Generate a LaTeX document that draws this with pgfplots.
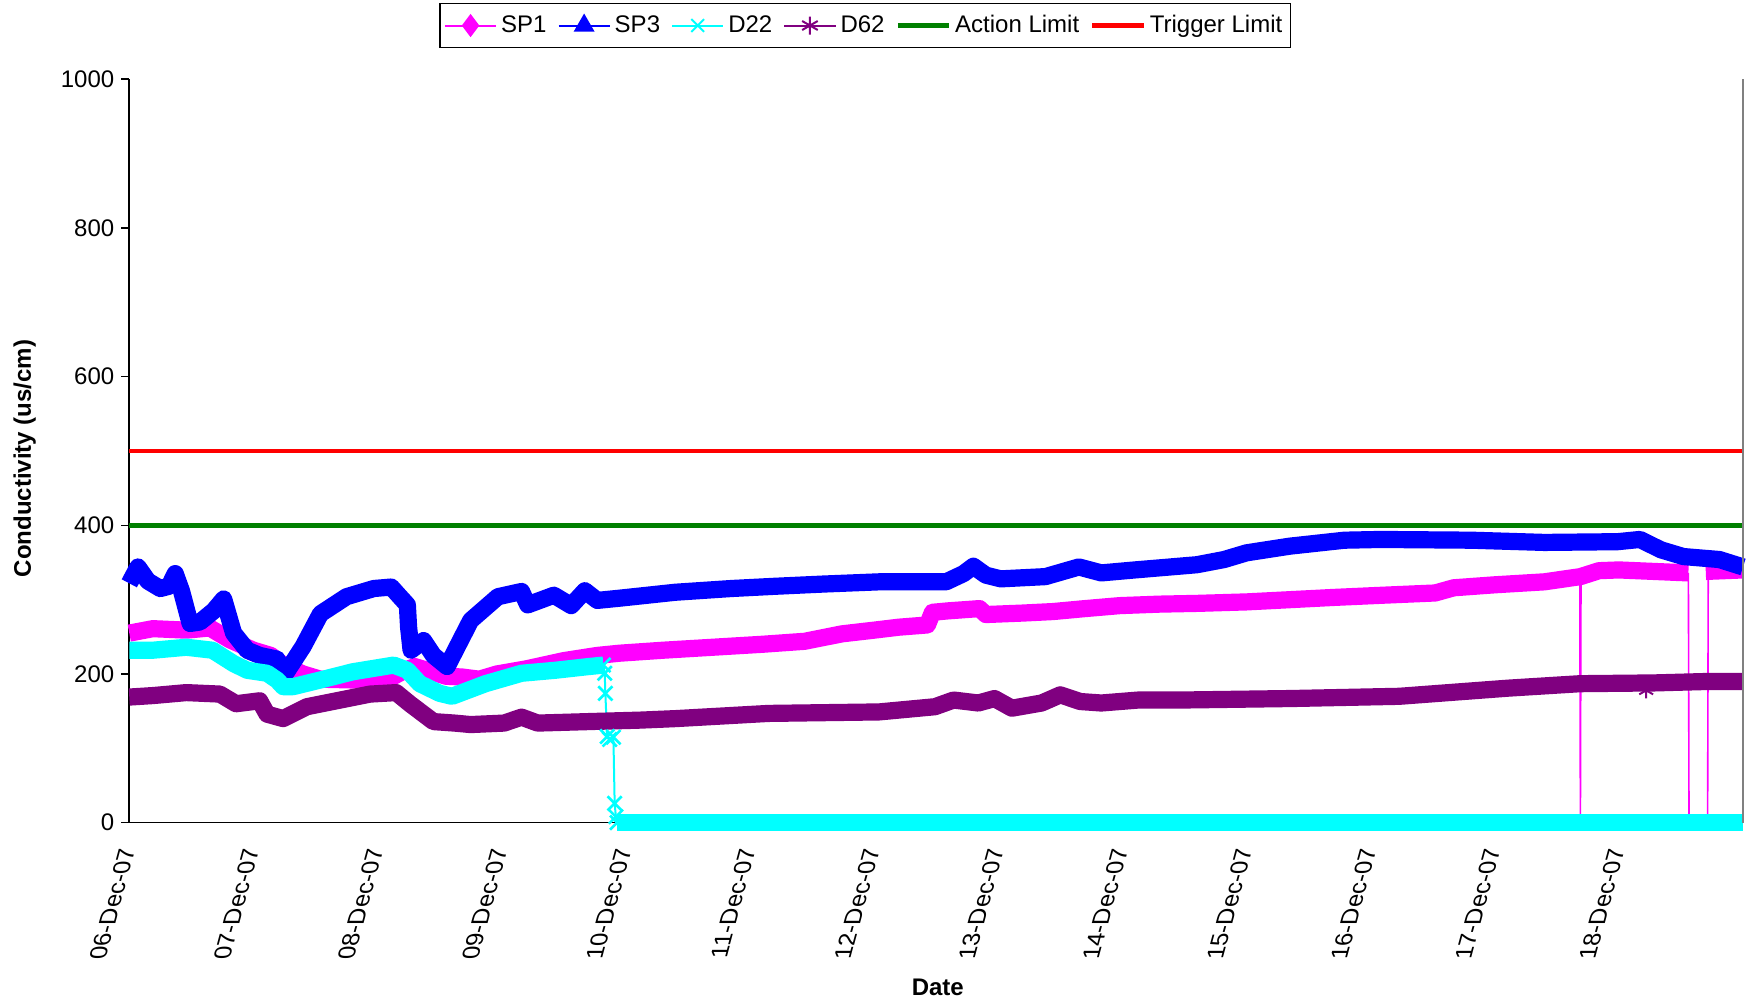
\documentclass[border=0pt]{standalone}
\usepackage{fontspec}
\setmainfont{Liberation Sans}
\usepackage{pgfplots}
\pgfplotsset{compat=1.18}
\definecolor{csp1}{HTML}{FF00FF}
\definecolor{csp3}{HTML}{0000FF}
\definecolor{cd22}{HTML}{00FFFF}
\definecolor{cd62}{HTML}{800080}
\definecolor{cact}{HTML}{008000}
\definecolor{ctrg}{HTML}{FF0000}
\pgfplotsset{band/.style={line width=8.6pt, line join=round, forget plot}}
\begin{document}
\begin{tikzpicture}
\begin{axis}[name=ax, scale only axis, width=806.85pt, height=371.7pt,
  xmin=0, xmax=13, ymin=0, ymax=1000, clip=false,
  axis x line*=bottom, axis y line*=left,
  axis line style={black, line width=0.8pt},
  ytick={0,200,400,600,800,1000}, yticklabels={0,200,400,600,800,1000},
  xtick={0,1,...,12},
  xticklabels={06-Dec-07,07-Dec-07,08-Dec-07,09-Dec-07,10-Dec-07,11-Dec-07,12-Dec-07,13-Dec-07,14-Dec-07,15-Dec-07,16-Dec-07,17-Dec-07,18-Dec-07},
  tick align=outside, major tick length=4pt,
  ytick style={black, line width=0.8pt}, xtick style={draw=none},
  tick label style={font=\fontsize{12}{14}\selectfont},
  /pgf/number format/assume math mode=true,
  xticklabel style={yshift=-5pt, xslant=0.27, rotate=90, anchor=east},
  xlabel={Date}, ylabel={Conductivity (us/cm)},
  label style={font=\fontsize{12}{14}\selectfont\bfseries},
  xlabel style={at={(axis description cs:0.501,-0.221)}, anchor=center},
  ylabel style={at={(axis description cs:-0.0649,0.49)}, anchor=center},
  legend style={at={(axis description cs:0.456,1.103)}, anchor=north, legend columns=6,
    draw=black, line width=0.6pt, font=\fontsize{12}{14}\selectfont, inner xsep=2pt, inner ysep=4pt,
    /tikz/every even column/.append style={column sep=3.5pt}},
  legend image code/.code={\draw[mark repeat=2,mark phase=2,#1] plot coordinates {(0cm,0cm) (0.45cm,0cm) (0.9cm,0cm)};},
]
\addlegendimage{csp1, line width=1pt, mark=diamond*, mark size=5pt}
\addlegendentry{SP1}
\addlegendimage{csp3, line width=1pt, mark=triangle*, mark size=5pt}
\addlegendentry{SP3}
\addlegendimage{cd22, line width=1pt, mark=x, mark size=4.5pt, mark options={line width=1pt}}
\addlegendentry{D22}
\addlegendimage{cd62, line width=1pt, mark=asterisk, mark size=4.5pt, mark options={line width=1pt}}
\addlegendentry{D62}
\addlegendimage{cact, line width=2.2pt}
\addlegendentry{Action Limit}
\addlegendimage{ctrg, line width=2.2pt}
\addlegendentry{Trigger Limit}

% SP1 drops (thin)
\addplot[csp1, line width=0.8pt, forget plot] coordinates {(11.685,330) (11.69,8) (11.695,331)};
\addplot[csp1, line width=0.8pt, forget plot] coordinates {(12.56,336) (12.565,8) (12.715,8) (12.72,338)};
% SP1 band
\addplot[csp1, band] coordinates {
(0,255) (0.19,261) (0.46,259) (0.65,262) (0.81,246) (1.0,232) (1.14,225) (1.24,212) (1.4,200) (1.54,193) (1.8,192) (2.0,195) (2.13,197) (2.22,205) (2.3,210) (2.4,205) (2.55,197) (2.68,196) (2.82,193) (2.96,200) (3.2,207) (3.5,218) (3.77,225) (3.95,228) (4.3,232) (4.7,236) (5.1,240) (5.44,244) (5.74,254) (6.0,259) (6.2,263) (6.43,266) (6.47,283) (6.6,285) (6.85,288) (6.9,280) (7.2,282) (7.44,284) (7.7,288) (7.98,292) (8.3,294) (8.6,295) (9.0,297) (9.35,300) (9.7,303) (10.1,306) (10.52,309) (10.67,316) (11.0,320) (11.4,324) (11.69,331) (11.84,339) (12.0,340) (12.28,338) (12.56,336)};
\addplot[csp1, band] coordinates {(12.70,338) (13.0,340)};
% SP3 band
\addplot[csp3, band] coordinates {
(0,322) (0.07,344) (0.15,325) (0.25,315) (0.32,318) (0.37,335) (0.42,312) (0.49,268) (0.57,270) (0.68,285) (0.76,301) (0.84,255) (0.95,232) (1.05,225) (1.19,220) (1.24,196) (1.40,237) (1.54,281) (1.75,304) (1.97,315) (2.11,317) (2.18,304) (2.24,293) (2.25,263) (2.27,232) (2.37,245) (2.45,225) (2.56,210) (2.75,272) (2.97,304) (3.16,311) (3.21,293) (3.42,306) (3.56,292) (3.67,312) (3.77,299) (3.95,302) (4.4,310) (4.85,315) (5.2,318) (5.59,321) (6.04,324) (6.58,324) (6.72,335) (6.80,345) (6.9,333) (7.02,328) (7.38,331) (7.65,344) (7.83,336) (8.1,340) (8.6,347) (8.82,354) (9.0,363) (9.35,372) (9.79,380) (10.08,381) (10.81,380) (11.4,377) (11.99,378) (12.17,381) (12.34,367) (12.52,358) (12.81,354) (13.0,344)};
% D22 band, drop, zero band
\addplot[cd22, band] coordinates {
(0,232) (0.19,232) (0.46,236) (0.67,232) (0.84,214) (0.95,205) (1.11,201) (1.19,192) (1.24,183) (1.32,183) (1.54,192) (1.8,203) (2.13,212) (2.24,205) (2.34,187) (2.5,174) (2.6,170) (2.87,187) (3.16,201) (3.43,205) (3.7,210) (3.82,212)};
\addplot[cd22, line width=1pt, mark=x, mark size=5pt, mark options={line width=1.3pt}, forget plot] coordinates {
(3.82,212) (3.83,201) (3.835,174) (3.85,116) (3.87,112) (3.9,115) (3.91,26) (3.92,8) (3.93,0)};
\addplot[cd22, band] coordinates {(3.93,0) (13.0,0)};
% D62 band
\addplot[cd62, band] coordinates {
(0,169) (0.19,171) (0.46,175) (0.73,173) (0.86,160) (1.05,164) (1.11,146) (1.24,140) (1.43,156) (1.67,164) (1.94,173) (2.15,175) (2.26,160) (2.45,136) (2.62,134) (2.75,132) (3.02,134) (3.16,142) (3.29,134) (3.7,136) (4.12,138) (4.40,140) (5.15,147) (6.04,149) (6.49,156) (6.64,165) (6.84,161) (6.97,167) (7.11,154) (7.35,161) (7.50,172) (7.66,163) (7.83,161) (8.13,165) (8.47,165) (9.35,167) (10.23,170) (11.11,181) (11.69,187) (12.28,188) (12.72,190) (13.0,190)};
\addplot[cd62, only marks, mark=asterisk, mark size=4pt, mark options={line width=1pt}, forget plot] coordinates {(12.22,178)};
% limits
\addplot[cact, line width=2.2pt, forget plot] coordinates {(0,400) (13,400)};
\addplot[ctrg, line width=2.2pt, forget plot] coordinates {(0,500) (13,500)};
\draw[gray, line width=1pt] (rel axis cs:1,0) -- (rel axis cs:1,1);
\end{axis}
\pgfresetboundingbox
\path[use as bounding box] ([xshift=-64.65pt,yshift=-91.15pt]ax.south west) rectangle ([xshift=4pt,yshift=39.65pt]ax.north east);
\end{tikzpicture}
\end{document}
